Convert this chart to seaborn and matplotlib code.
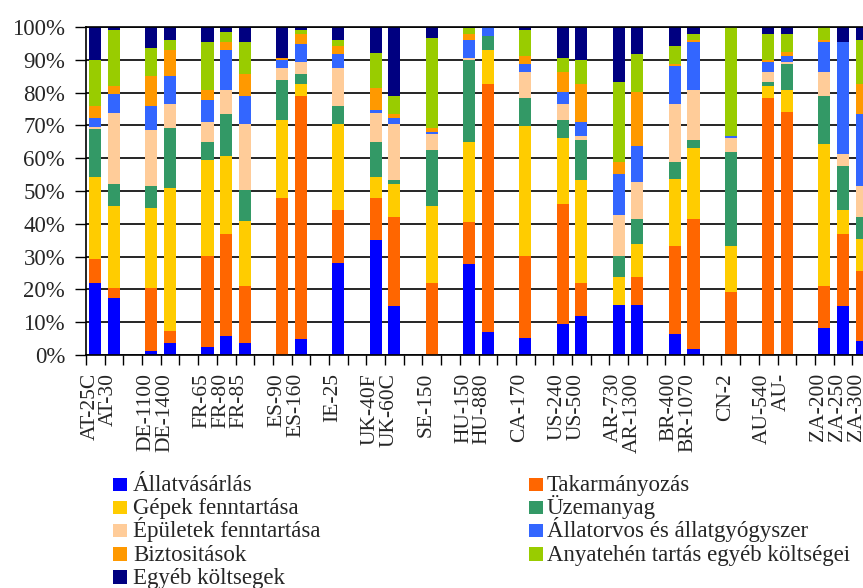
import numpy as np
import pandas as pd
import matplotlib.pyplot as plt
from matplotlib.patches import Rectangle
from matplotlib.transforms import ScaledTranslation
import seaborn as sns

farms = ['AT-25C', 'AT-30', 'DE-1100', 'DE-1400', 'FR-65', 'FR-80', 'FR-85',
         'ES-90', 'ES-160', 'IE-25', 'UK-40F', 'UK-60C', 'SE-150', 'HU-150',
         'HU-880', 'CA-170', 'US-240', 'US-500', 'AR-730', 'AR-1300', 'BR-400',
         'BR-1070', 'CN-2', 'AU-540', 'AU-', 'ZA-200', 'ZA-250', 'ZA-300']

allatvasarlas = [22.1, 17.3, 1.3, 3.8, 2.5, 5.7, 3.8, 0, 4.9, 28.2, 35.0, 14.8, 0, 27.7,
                 6.9, 5.1, 9.3, 11.8, 15.3, 15.3, 6.3, 1.9, 0, 0, 0, 8.1, 14.8, 4.4]
takarmanyozas = [7.3, 3.0, 19.0, 3.6, 27.6, 31.2, 17.1, 47.8, 74.1, 16.0, 12.8, 27.4, 22.1, 12.8,
                 75.6, 25.0, 36.6, 10.3, 0, 8.6, 26.8, 39.7, 19.1, 78.3, 74.0, 12.8, 22.1, 21.3]
gepek = [25.0, 25.0, 24.4, 43.5, 29.3, 23.7, 20.1, 23.8, 3.5, 26.2, 6.6, 9.9, 23.2, 24.4,
         10.5, 39.6, 20.2, 31.2, 8.6, 9.8, 20.7, 21.4, 14.0, 3.6, 6.7, 43.4, 7.2, 9.8]
uzemanyag = [14.6, 6.8, 6.7, 18.2, 5.5, 12.8, 9.3, 12.2, 3.1, 5.4, 10.5, 1.2, 17.1, 24.9,
             4.3, 8.6, 5.5, 12.2, 6.2, 7.9, 4.9, 2.5, 28.7, 1.2, 7.9, 14.6, 13.5, 6.7]
epuletek = [0.6, 21.8, 17.1, 7.3, 6.1, 7.3, 20.1, 3.6, 3.7, 11.6, 9.0, 17.1, 4.9, 0.7,
            0, 7.9, 4.8, 1.2, 12.7, 11.0, 17.7, 15.2, 4.3, 3.1, 0.6, 7.3, 3.6, 9.2]
allatorvos = [2.6, 5.6, 7.3, 8.7, 6.8, 12.3, 8.5, 2.4, 5.6, 4.5, 0.7, 1.8, 0.6, 5.5,
              2.7, 2.4, 3.7, 4.3, 12.3, 11.1, 11.6, 14.7, 0.6, 3.0, 1.9, 9.2, 34.2, 22.0]
biztositasok = [3.6, 2.4, 9.3, 7.9, 2.9, 2.4, 6.7, 0.7, 3.0, 2.3, 6.7, 1.2, 1.2, 1.9,
                0, 2.5, 6.1, 11.5, 3.6, 16.4, 0.6, 0.6, 0, 0.6, 1.3, 0.6, 0, 9.1]
anyatehen = [14.0, 17.1, 8.4, 2.9, 14.7, 3.0, 9.8, 0, 1.1, 1.7, 10.9, 5.5, 27.4, 1.7,
             0, 7.9, 4.3, 7.3, 24.4, 11.6, 5.5, 1.9, 33.3, 8.1, 5.5, 4.0, 0, 13.5]
egyeb = [10.2, 1.0, 6.5, 4.1, 4.6, 1.6, 4.6, 9.5, 1.0, 4.1, 7.8, 21.1, 3.5, 0.4,
         0, 1.0, 9.5, 10.2, 16.9, 8.3, 5.9, 2.1, 0, 2.1, 2.1, 0, 4.6, 4.0]

names = ['Állatvásárlás', 'Takarmányozás', 'Gépek fenntartása', 'Üzemanyag',
         'Épületek fenntartása', 'Állatorvos és állatgyógyszer', 'Biztositások',
         'Anyatehén tartás egyéb költségei', 'Egyéb költsegek']
colors = ['#0000FF', '#FF6600', '#FFCC00', '#339966', '#FFCC99',
          '#3366FF', '#FF9900', '#99CC00', '#000080']

sns.set_style('ticks')
plt.rcParams['font.family'] = ['Liberation Serif', 'DejaVu Serif']
plt.rcParams['font.size'] = 16.5

df = pd.DataFrame(dict(zip(names, [allatvasarlas, takarmanyozas, gepek, uzemanyag, epuletek,
                                   allatorvos, biztositasok, anyatehen, egyeb])), index=farms)
pct = df.div(df.sum(axis=1), axis=0) * 100
cum = pct.cumsum(axis=1)

# one empty slot between countries
pos = []
x, prev = 0, None
for f in farms:
    c = f.split('-')[0]
    if prev is not None and c != prev:
        x += 1
    pos.append(x)
    x += 1
    prev = c
nslots = x

W, H = 863, 588
fig = plt.figure(figsize=(W / 100, H / 100), dpi=100)
ax = fig.add_axes([86 / W, (H - 355) / H, 785 / W, 328 / H])

# tallest cumulative first, shorter ones on top -> stacked look
for name, col in reversed(list(zip(names, colors))):
    sns.barplot(x=pos, y=cum[name].values, color=col, native_scale=True, width=0.65,
                saturation=1, errorbar=None, linewidth=0, ax=ax)

ax.set_xlim(-0.5, nslots - 0.5)
ax.set_ylim(0, 100)
ax.set_yticks(range(0, 101, 10))
ax.set_yticklabels([f'{v}%' for v in range(0, 101, 10)])
ax.yaxis.grid(True, color='black', linewidth=1.2)
ax.set_axisbelow(True)

ax.set_xticks(pos)
ax.set_xticklabels(farms, rotation=90, fontsize=15.5)
ax.set_xticks(np.arange(-0.5, nslots, 1), minor=True)
ax.tick_params(axis='x', which='major', length=0, pad=13)
ax.tick_params(axis='x', which='minor', length=7, width=1, direction='out', color='black')
ax.tick_params(axis='y', length=8, width=1, direction='out', color='black', pad=7)
ax.set_xlabel('')
ax.set_ylabel('')
shift = ScaledTranslation(-5.5 / 100, 0, fig.dpi_scale_trans)
for lbl in ax.get_xticklabels():
    lbl.set_transform(lbl.get_transform() + shift)

for s in ['left', 'bottom', 'top']:
    ax.spines[s].set_color('black')
    ax.spines[s].set_linewidth(1.2)
ax.spines['top'].set_visible(True)
ax.spines['right'].set_visible(False)

# legend laid out by hand so rows line up like the original
order = [[0, 2, 4, 6, 8], [1, 3, 5, 7]]
col_x = [(113, 133), (529, 547)]
box = 13.5
for (hx, tx), idxs in zip(col_x, order):
    for r, i in enumerate(idxs):
        base = 491 + 23.2 * r
        fig.patches.append(Rectangle((hx / W, 1 - base / H), box / W, box / H,
                                     transform=fig.transFigure, facecolor=colors[i],
                                     edgecolor='none'))
        fig.text(tx / W, 1 - base / H, names[i], ha='left', va='baseline', fontsize=16.5)

fig.savefig('out.png', dpi=100)
